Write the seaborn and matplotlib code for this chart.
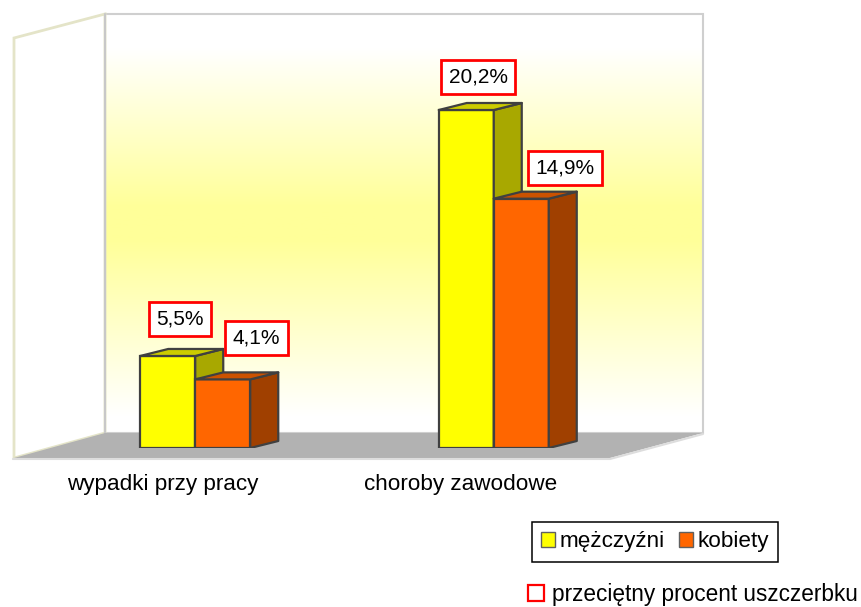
import numpy as np
import pandas as pd
import matplotlib
matplotlib.use("Agg")
import matplotlib.pyplot as plt
from matplotlib.colors import LinearSegmentedColormap
from matplotlib.patches import Polygon, Patch
import seaborn as sns

categories = ["wypadki przy pracy", "choroby zawodowe"]
men = [5.5, 20.2]
women = [4.1, 14.9]
series_names = ["mężczyźni", "kobiety"]
note_label = "przeciętny procent uszczerbku"

W, H = 861, 607
FRONT = {"mężczyźni": "#FFFF00", "kobiety": "#FF6600"}
SIDE = {"mężczyźni": "#A8A800", "kobiety": "#A04000"}
TOP = {"mężczyźni": "#CCCC00", "kobiety": "#CC5200"}
EDGE = "#404040"

sns.set_theme(style="white")
plt.rcParams["font.family"] = ["Liberation Sans", "DejaVu Sans"]

fig = plt.figure(figsize=(W / 100, H / 100), dpi=100, facecolor="white")

# background: walls and floor, in pixel coordinates
bg = fig.add_axes([0, 0, 1, 1], zorder=0)
bg.set_xlim(0, W)
bg.set_ylim(H, 0)
bg.axis("off")
wall_cmap = LinearSegmentedColormap.from_list(
    "wall", [(0, "#FFFFFF"), (0.08, "#FFFFFF"), (0.46, "#FFFF99"), (0.54, "#FFFF99"), (0.96, "#FFFFFF"), (1, "#FFFFFF")]
)
bg.imshow(np.linspace(0, 1, 256).reshape(-1, 1), cmap=wall_cmap, aspect="auto",
          extent=(105, 703, 433, 14), zorder=1)
bg.set_xlim(0, W)
bg.set_ylim(H, 0)
bg.add_patch(Polygon([(105, 14), (703, 14), (703, 433), (105, 433)], fill=False,
                     ec="#CFCFCF", lw=1.5, zorder=2))
bg.add_patch(Polygon([(14, 38), (105, 14), (105, 433), (14, 458)], fc="white",
                     ec="#E4E4C8", lw=2, zorder=2))
bg.plot([105, 105], [14, 433], color="#C8C8C8", lw=1.5, zorder=3)
bg.add_patch(Polygon([(14, 458), (105, 433), (703, 433), (610, 458)], fc="#B2B2B2",
                     ec="none", zorder=3))
bg.plot([13, 610, 703], [459, 459, 434], color="#DDDDDD", lw=1.5, zorder=3)

# main axes: the front plane of the floor, y=0 on the bars' base line
ppu = (448 - 110) / 20.2
ax = fig.add_axes([13 / W, (H - 448) / H, 597 / W, 434 / H], zorder=1)
ax.patch.set_visible(False)

df = pd.DataFrame({
    "kategoria": categories * 2,
    "seria": [series_names[0]] * 2 + [series_names[1]] * 2,
    "procent": men + women,
})
sns.barplot(data=df, x="kategoria", y="procent", hue="seria", palette=FRONT,
            width=0.3685, gap=0, saturation=1, edgecolor=EDGE, linewidth=1.6,
            legend=False, ax=ax, err_kws={"linewidth": 0})
ax.set_xlim(-0.5, 1.5)
ax.set_ylim(0, 434 / ppu)

px_x = 597 / 2.0  # pixels per category
shift = 33 / px_x
dx, dy = 28 / px_x, 7 / ppu

# label box centres relative to the bar's top centre, in pixels
label_offsets = [[(12, 37), (12, 33)], [(34, 41), (44, 31)]]

for s, (name, cont) in enumerate(zip(series_names, ax.containers)):
    for c, bar in enumerate(cont):
        bar.set_x(bar.get_x() + shift)
        bar.set_zorder(3 + s)
        x0, x1, h = bar.get_x(), bar.get_x() + bar.get_width(), bar.get_height()
        ax.add_patch(Polygon([(x1, 0), (x1 + dx, dy), (x1 + dx, h + dy), (x1, h)],
                             fc=SIDE[name], ec=EDGE, lw=1.6, zorder=3 + s, joinstyle="round"))
        ax.add_patch(Polygon([(x0, h), (x0 + dx, h + dy), (x1 + dx, h + dy), (x1, h)],
                             fc=TOP[name], ec=EDGE, lw=1.6, zorder=3 + s, joinstyle="round"))
        ox, oy = label_offsets[s][c]
        ax.annotate(f"{h:.1f}%".replace(".", ","), xy=((x0 + x1) / 2, h),
                    xytext=(ox * 0.72, oy * 0.72), textcoords="offset points",
                    ha="center", va="center", fontsize=15, color="black", zorder=6,
                    bbox=dict(boxstyle="square,pad=0.36", fc="white", ec="#FF0000", lw=2))

sns.despine(ax=ax, left=True, bottom=True, right=True, top=True)
ax.set_xlabel("")
ax.set_ylabel("")
ax.set_yticks([])
ax.tick_params(axis="x", length=0, pad=19, labelsize=16.2, colors="black")

leg = ax.legend(
    handles=[Patch(fc=FRONT[n], ec="#606060", lw=1, label=n) for n in series_names],
    ncol=2, loc="center", bbox_to_anchor=(655 / W, (H - 542) / H),
    bbox_transform=fig.transFigure, fontsize=16.2, labelcolor="black", frameon=True,
    fancybox=False, edgecolor="black", framealpha=1, handlelength=0.6, handleheight=0.6,
    handletextpad=0.2, columnspacing=0.65, borderpad=0.42, borderaxespad=0,
)
leg.get_frame().set_linewidth(1.1)
ax.add_artist(leg)
ax.legend(
    handles=[Patch(fc="white", ec="#FF0000", lw=1.6, label=note_label)],
    loc="center left", bbox_to_anchor=(528 / W, (H - 594) / H),
    bbox_transform=fig.transFigure, fontsize=16.3, labelcolor="black", frameon=False,
    handlelength=0.72, handleheight=0.72, handletextpad=0.36, borderpad=0, borderaxespad=0,
)

fig.savefig("out.png", dpi=100, facecolor="white")
